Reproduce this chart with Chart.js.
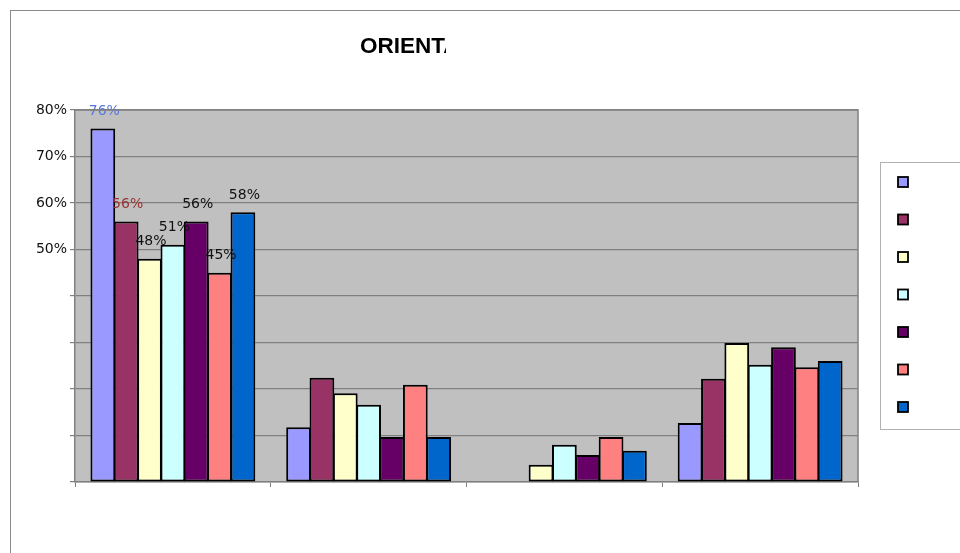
<!DOCTYPE html>
<html>
<head>
<meta charset="utf-8">
<script src="https://cdn.jsdelivr.net/npm/chart.js@4.4.1/dist/chart.umd.min.js"></script>
<style>
  html, body { margin: 0; padding: 0; background: #fff; }
  #wrap { width: 960px; height: 553px; position: relative; }
</style>
</head>
<body>
<div id="wrap"><canvas id="c" width="960" height="553"></canvas></div>
<script>
// categories have no visible names in the picture
const categories = ['', '', '', ''];
const seriesNames = ['S1', 'S2', 'S3', 'S4', 'S5', 'S6', 'S7'];
const seriesColors = ['#9999FF', '#993366', '#FFFFCC', '#CCFFFF', '#660066', '#FF8080', '#0066CC'];
const s1 = [76, 11.8, 0, 12.7];
const s2 = [56, 22.4, 0, 22.2];
const s3 = [48, 19.1, 3.7, 29.9];
const s4 = [51, 16.6, 8, 25.2];
const s5 = [56, 9.7, 5.8, 29];
const s6 = [45, 20.9, 9.7, 24.7];
const s7 = [58, 9.7, 6.7, 26];
const seriesValues = [s1, s2, s3, s4, s5, s6, s7];
// only the first group carries value labels
const labelColors = ['#5577DD', '#993333', '#111', '#111', '#111', '#111', '#111'];
const yTickLabels = { 80: '80%', 70: '70%', 60: '60%', 50: '50%' };
const titleText = 'ORIENTATION';

const frame = {
  id: 'frame',
  beforeDraw(chart) {
    const { ctx, chartArea: a } = chart;
    ctx.save();
    ctx.fillStyle = '#fff';
    ctx.fillRect(0, 0, chart.width, chart.height);
    ctx.strokeStyle = '#8a8a8a';
    ctx.lineWidth = 1;
    ctx.strokeRect(10.5, 10.5, chart.width, chart.height);
    ctx.fillStyle = '#c0c0c0';
    ctx.fillRect(a.left, a.top, a.right - a.left, a.bottom - a.top);
    ctx.restore();
  },
  afterDraw(chart) {
    const { ctx, chartArea: a } = chart;
    ctx.save();
    // plot border (top/right)
    ctx.strokeStyle = '#808080';
    ctx.lineWidth = 1.5;
    ctx.beginPath();
    ctx.moveTo(a.left, a.top);
    ctx.lineTo(a.right, a.top);
    ctx.lineTo(a.right, a.bottom);
    ctx.stroke();

    // clipped title
    ctx.beginPath();
    ctx.rect(0, 0, 446, chart.height);
    ctx.clip();
    ctx.fillStyle = '#000';
    ctx.font = 'bold 22.5px "Liberation Sans", Arial, sans-serif';
    ctx.textBaseline = 'alphabetic';
    ctx.fillText(titleText, 360, 53);
    ctx.restore();

    // legend box with swatches only
    ctx.save();
    ctx.strokeStyle = '#b0b0b0';
    ctx.lineWidth = 1;
    ctx.strokeRect(880.5, 162.5, 120, 267);
    seriesColors.forEach((c, i) => {
      const y = 177 + i * 37.5;
      ctx.fillStyle = c;
      ctx.fillRect(898, y, 10, 10);
      ctx.strokeStyle = '#000';
      ctx.lineWidth = 1.8;
      ctx.strokeRect(898, y, 10, 10);
    });
    ctx.restore();
  },
  afterDatasetsDraw(chart) {
    const { ctx } = chart;
    ctx.save();
    ctx.font = '14px "DejaVu Sans", sans-serif';
    ctx.textAlign = 'center';
    ctx.textBaseline = 'middle';
    chart.data.datasets.forEach((ds, i) => {
      const bar = chart.getDatasetMeta(i).data[0];
      ctx.fillStyle = labelColors[i];
      ctx.fillText(Math.round(ds.data[0]) + '%', bar.x + 1.5, bar.y - 17);
    });
    ctx.restore();
  }
};

new Chart(document.getElementById('c'), {
  type: 'bar',
  data: {
    labels: categories,
    datasets: seriesValues.map((vals, i) => ({
      label: seriesNames[i],
      data: vals,
      backgroundColor: seriesColors[i],
      borderColor: '#000',
      borderWidth: 2,
      borderSkipped: false,
      categoryPercentage: 0.835,
      barPercentage: 1.06
    }))
  },
  options: {
    responsive: false,
    animation: false,
    layout: { padding: { left: 10, right: 102, top: 110, bottom: 51 } },
    plugins: {
      legend: { display: false },
      title: { display: false },
      tooltip: { enabled: false }
    },
    scales: {
      x: {
        grid: { drawOnChartArea: false, drawTicks: true, tickLength: 5, color: '#808080', tickColor: '#808080' },
        border: { color: '#808080', width: 1.5 },
        ticks: { callback: () => '' },
        afterFit(s) { s.height = 20; }
      },
      y: {
        min: 0,
        max: 80,
        ticks: {
          stepSize: 10,
          padding: 3,
          color: '#111',
          font: { family: '"DejaVu Sans", sans-serif', size: 14 },
          callback: v => yTickLabels[v] || ''
        },
        grid: { color: '#808080', tickColor: '#808080', tickLength: 5, lineWidth: 1.2 },
        border: { color: '#808080', width: 1.5 },
        afterFit(s) { s.width = 65; }
      }
    }
  },
  plugins: [frame]
});
</script>
</body>
</html>
